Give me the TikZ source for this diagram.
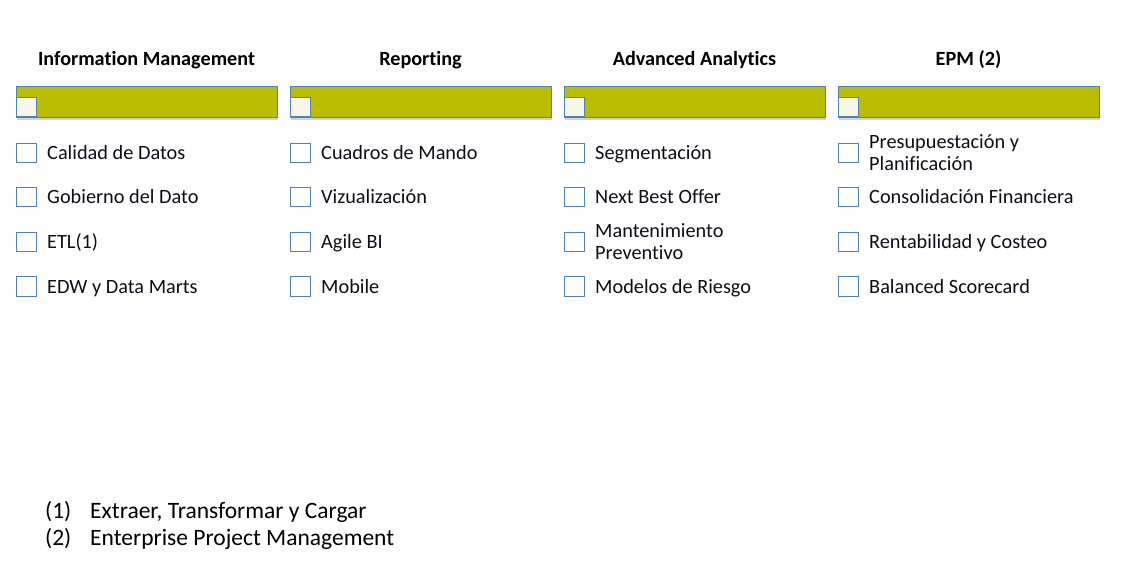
\documentclass[tikz,border=0pt]{standalone}
\usepackage{fontspec}
\setmainfont[Ligatures={NoCommon}]{Carlito}
\usetikzlibrary{shadows}
\definecolor{barfill}{HTML}{BBBD00}
\definecolor{edge}{HTML}{4F81BD}
\definecolor{smallfill}{HTML}{F6F7E9}
\definecolor{txt}{HTML}{0D0D1A}
\tikzset{
  x=1pt,y=-1pt,
  bar/.style={draw=edge,fill=barfill,line width=1pt,minimum width=261pt,minimum height=31pt,inner sep=0pt,anchor=north west,drop shadow={shadow xshift=0pt,shadow yshift=-2.5pt,opacity=0.35}},
  tick/.style={draw=edge,fill=smallfill,line width=1pt,minimum width=20pt,minimum height=19pt,inner sep=0pt,anchor=south west},
  cbox/.style={draw=edge,line width=1pt,minimum width=19.5pt,minimum height=19.5pt,inner sep=0pt},
  title/.style={font=\fontsize{20.2}{24}\selectfont\bfseries,text=black,anchor=base},
  item/.style={font=\fontsize{20.3}{22.5}\selectfont,text=txt,anchor=base west,inner sep=0pt},
  note/.style={font=\fontsize{23.5}{27}\selectfont,text=black,anchor=base west,inner sep=0pt}
}
\begin{document}
\begin{tikzpicture}
\useasboundingbox (0,0) rectangle (1133,574);
% columns
\foreach \i/\x/\t in {1/16/Information Management,2/290/Reporting,3/564/Advanced Analytics,4/838/EPM (2)}{
  \node[title] (t\i) at (\x+130.5,65) {\t};
  \node[bar] (b\i) at (\x,86) {};
  \node[tick] (s\i) at (\x,117) {};
  \node[cbox] (c\i a) at (\x+10.5,152.8) {};
  \node[cbox] (c\i b) at (\x+10.5,197.2) {};
  \node[cbox] (c\i c) at (\x+10.5,242) {};
  \node[cbox] (c\i d) at (\x+10.5,286.5) {};
}
% single-line items
\foreach \i/\x/\a/\b/\c/\d in {
 1/16/Calidad de Datos/Gobierno del Dato/ETL(1)/EDW y Data Marts,
 2/290/Cuadros de Mando/Vizualización/Agile BI/Mobile}{
  \node[item] (l\i a) at (\x+31,159.3) {\a};
  \node[item] (l\i b) at (\x+31,203.6) {\b};
  \node[item] (l\i c) at (\x+31,248.5) {\c};
  \node[item] (l\i d) at (\x+31,293) {\d};
}
% column 3
\node[item] (l3a) at (595,159.3) {Segmentación};
\node[item] (l3b) at (595,203.6) {Next Best Offer};
\node[item] (l3c) at (595,237.5) {Mantenimiento};
\node[item] (l3c2) at (595,259.5) {Preventivo};
\node[item] (l3d) at (595,293) {Modelos de Riesgo};
% column 4
\node[item] (l4a) at (869,148) {Presupuestación y};
\node[item] (l4a2) at (869,170.7) {Planificación};
\node[item] (l4b) at (869,203.6) {Consolidación Financiera};
\node[item] (l4c) at (869,248.5) {Rentabilidad y Costeo};
\node[item] (l4d) at (869,293) {Balanced Scorecard};
% footnotes
\node[note] (n1) at (45,518) {(1)};
\node[note] (f1) at (90,518) {Extraer, Transformar y Cargar};
\node[note] (n2) at (45,545) {(2)};
\node[note] (f2) at (90,545) {Enterprise Project Management};
\end{tikzpicture}
\end{document}
